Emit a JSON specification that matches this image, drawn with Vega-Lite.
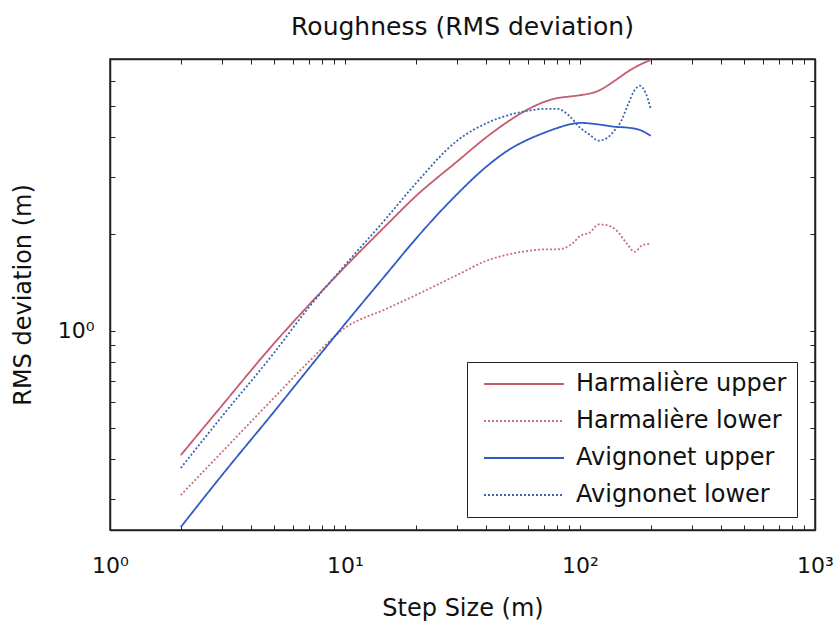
{
  "$schema": "https://vega.github.io/schema/vega-lite/v6.json",
  "width": 705,
  "height": 471,
  "autosize": {"type": "none"},
  "padding": {"left": 110, "top": 59, "right": 21, "bottom": 91},
  "background": "white",
  "config": {
    "font": "DejaVu Sans",
    "view": {"stroke": "#222", "strokeWidth": 1.5},
    "axis": {
      "grid": false,
      "domainColor": "#222",
      "domainWidth": 1.5,
      "tickColor": "#222",
      "tickWidth": 1,
      "tickSize": -5,
      "labelFont": "DejaVu Sans",
      "labelFontSize": 22,
      "labelColor": "#111",
      "labelOverlap": false,
      "labelFlush": false,
      "titleFont": "DejaVu Sans",
      "titleFontSize": 24,
      "titleFontWeight": "normal",
      "titleColor": "#111"
    }
  },
  "title": {
    "text": "Roughness (RMS deviation)",
    "font": "DejaVu Sans",
    "fontSize": 25,
    "fontWeight": "normal",
    "color": "#111",
    "baseline": "alphabetic",
    "offset": 24,
    "dy": 36
  },
  "data": {
    "values": [
      {"series": "Harmalière upper", "step": 2, "rms": 0.41},
      {"series": "Harmalière upper", "step": 3, "rms": 0.586},
      {"series": "Harmalière upper", "step": 5, "rms": 0.915},
      {"series": "Harmalière upper", "step": 7, "rms": 1.2},
      {"series": "Harmalière upper", "step": 10, "rms": 1.58},
      {"series": "Harmalière upper", "step": 15, "rms": 2.13},
      {"series": "Harmalière upper", "step": 20, "rms": 2.62},
      {"series": "Harmalière upper", "step": 30, "rms": 3.36},
      {"series": "Harmalière upper", "step": 40, "rms": 4.0},
      {"series": "Harmalière upper", "step": 50, "rms": 4.5},
      {"series": "Harmalière upper", "step": 60, "rms": 4.88},
      {"series": "Harmalière upper", "step": 70, "rms": 5.14},
      {"series": "Harmalière upper", "step": 80, "rms": 5.29},
      {"series": "Harmalière upper", "step": 90, "rms": 5.35},
      {"series": "Harmalière upper", "step": 100, "rms": 5.4},
      {"series": "Harmalière upper", "step": 120, "rms": 5.58},
      {"series": "Harmalière upper", "step": 140, "rms": 5.98},
      {"series": "Harmalière upper", "step": 160, "rms": 6.4},
      {"series": "Harmalière upper", "step": 180, "rms": 6.72},
      {"series": "Harmalière upper", "step": 200, "rms": 6.95},

      {"series": "Harmalière lower", "step": 2, "rms": 0.308},
      {"series": "Harmalière lower", "step": 3, "rms": 0.42},
      {"series": "Harmalière lower", "step": 5, "rms": 0.62},
      {"series": "Harmalière lower", "step": 7, "rms": 0.8},
      {"series": "Harmalière lower", "step": 10, "rms": 1.02},
      {"series": "Harmalière lower", "step": 15, "rms": 1.17},
      {"series": "Harmalière lower", "step": 20, "rms": 1.29},
      {"series": "Harmalière lower", "step": 30, "rms": 1.49},
      {"series": "Harmalière lower", "step": 40, "rms": 1.65},
      {"series": "Harmalière lower", "step": 50, "rms": 1.73},
      {"series": "Harmalière lower", "step": 60, "rms": 1.77},
      {"series": "Harmalière lower", "step": 70, "rms": 1.79},
      {"series": "Harmalière lower", "step": 80, "rms": 1.79},
      {"series": "Harmalière lower", "step": 93, "rms": 1.87},
      {"series": "Harmalière lower", "step": 100, "rms": 1.97},
      {"series": "Harmalière lower", "step": 110, "rms": 2.02},
      {"series": "Harmalière lower", "step": 120, "rms": 2.14},
      {"series": "Harmalière lower", "step": 130, "rms": 2.13},
      {"series": "Harmalière lower", "step": 143, "rms": 2.05},
      {"series": "Harmalière lower", "step": 158, "rms": 1.87},
      {"series": "Harmalière lower", "step": 171, "rms": 1.76},
      {"series": "Harmalière lower", "step": 185, "rms": 1.85},
      {"series": "Harmalière lower", "step": 198, "rms": 1.86},

      {"series": "Avignonet upper", "step": 2, "rms": 0.245},
      {"series": "Avignonet upper", "step": 3, "rms": 0.356},
      {"series": "Avignonet upper", "step": 5, "rms": 0.561},
      {"series": "Avignonet upper", "step": 7, "rms": 0.762},
      {"series": "Avignonet upper", "step": 10, "rms": 1.05},
      {"series": "Avignonet upper", "step": 15, "rms": 1.5},
      {"series": "Avignonet upper", "step": 20, "rms": 1.93},
      {"series": "Avignonet upper", "step": 30, "rms": 2.66},
      {"series": "Avignonet upper", "step": 40, "rms": 3.24},
      {"series": "Avignonet upper", "step": 50, "rms": 3.66},
      {"series": "Avignonet upper", "step": 60, "rms": 3.93},
      {"series": "Avignonet upper", "step": 70, "rms": 4.12},
      {"series": "Avignonet upper", "step": 80, "rms": 4.27},
      {"series": "Avignonet upper", "step": 90, "rms": 4.38},
      {"series": "Avignonet upper", "step": 100, "rms": 4.43},
      {"series": "Avignonet upper", "step": 120, "rms": 4.38},
      {"series": "Avignonet upper", "step": 140, "rms": 4.31},
      {"series": "Avignonet upper", "step": 160, "rms": 4.28},
      {"series": "Avignonet upper", "step": 180, "rms": 4.21},
      {"series": "Avignonet upper", "step": 200, "rms": 4.04},

      {"series": "Avignonet lower", "step": 2, "rms": 0.374},
      {"series": "Avignonet lower", "step": 3, "rms": 0.542},
      {"series": "Avignonet lower", "step": 5, "rms": 0.855},
      {"series": "Avignonet lower", "step": 7, "rms": 1.18},
      {"series": "Avignonet lower", "step": 10, "rms": 1.6},
      {"series": "Avignonet lower", "step": 15, "rms": 2.24},
      {"series": "Avignonet lower", "step": 20, "rms": 2.87},
      {"series": "Avignonet lower", "step": 30, "rms": 3.9},
      {"series": "Avignonet lower", "step": 40, "rms": 4.42},
      {"series": "Avignonet lower", "step": 50, "rms": 4.69},
      {"series": "Avignonet lower", "step": 60, "rms": 4.83},
      {"series": "Avignonet lower", "step": 70, "rms": 4.9},
      {"series": "Avignonet lower", "step": 80, "rms": 4.9},
      {"series": "Avignonet lower", "step": 90, "rms": 4.66},
      {"series": "Avignonet lower", "step": 100, "rms": 4.28},
      {"series": "Avignonet lower", "step": 110, "rms": 4.07},
      {"series": "Avignonet lower", "step": 120, "rms": 3.9},
      {"series": "Avignonet lower", "step": 130, "rms": 3.97},
      {"series": "Avignonet lower", "step": 140, "rms": 4.19},
      {"series": "Avignonet lower", "step": 150, "rms": 4.5},
      {"series": "Avignonet lower", "step": 160, "rms": 5.05},
      {"series": "Avignonet lower", "step": 170, "rms": 5.57},
      {"series": "Avignonet lower", "step": 180, "rms": 5.78},
      {"series": "Avignonet lower", "step": 190, "rms": 5.5},
      {"series": "Avignonet lower", "step": 200, "rms": 4.9}
    ]
  },
  "layer": [
    {
      "mark": {"type": "line", "interpolate": "monotone", "strokeWidth": 1.8},
      "encoding": {
        "x": {
          "field": "step", "type": "quantitative",
          "scale": {"type": "log", "domain": [1, 1000], "nice": false},
          "axis": {
            "orient": "bottom",
            "title": "Step Size (m)",
            "values": [1,2,3,4,5,6,7,8,9,10,20,30,40,50,60,70,80,90,100,200,300,400,500,600,700,800,900,1000],
            "labelExpr": "datum.value == 1 ? '10⁰' : datum.value == 10 ? '10¹' : datum.value == 100 ? '10²' : datum.value == 1000 ? '10³' : ''",
            "labelPadding": 30,
            "titlePadding": 20
          }
        },
        "y": {
          "field": "rms", "type": "quantitative",
          "scale": {"type": "log", "domain": [0.24, 7], "nice": false, "zero": false},
          "axis": {
            "orient": "left",
            "title": "RMS deviation (m)",
            "values": [0.3,0.4,0.5,0.6,0.7,0.8,0.9,1,2,3,4,5,6,7],
            "labelExpr": "datum.value == 1 ? '10⁰' : ''",
            "labelPadding": 21,
            "titlePadding": 22
          }
        },
        "color": {
          "field": "series", "type": "nominal",
          "scale": {
            "domain": ["Harmalière upper", "Harmalière lower", "Avignonet upper", "Avignonet lower"],
            "range": ["#c45c6c", "#c8707e", "#2f5bc4", "#3a66b4"]
          },
          "legend": {
            "title": null,
            "orient": "none",
            "legendX": 357,
            "legendY": 303,
            "strokeColor": "#222",
            "fillColor": "white",
            "padding": 10,
            "symbolType": "M-4,0H4",
            "symbolSize": 400,
            "symbolStrokeWidth": 1.8,
            "symbolOffset": 35,
            "labelOffset": 40,
            "labelFont": "DejaVu Sans",
            "labelFontSize": 24,
            "labelColor": "#111",
            "labelLimit": 400,
            "rowPadding": 13
          }
        },
        "strokeDash": {
          "field": "series", "type": "nominal",
          "scale": {
            "domain": ["Harmalière upper", "Harmalière lower", "Avignonet upper", "Avignonet lower"],
            "range": [[1, 0], [2, 2], [1, 0], [2, 2]]
          },
          "legend": null
        }
      }
    },
    {
      "mark": {"type": "line", "opacity": 0},
      "encoding": {
        "x": {
          "field": "step", "type": "quantitative",
          "scale": {"type": "log", "domain": [1, 1000], "nice": false},
          "axis": {
            "orient": "top",
            "title": null,
            "labels": false,
            "values": [1,2,3,4,5,6,7,8,9,10,20,30,40,50,60,70,80,90,100,200,300,400,500,600,700,800,900,1000]
          }
        },
        "y": {
          "field": "rms", "type": "quantitative",
          "scale": {"type": "log", "domain": [0.24, 7], "nice": false, "zero": false},
          "axis": {
            "orient": "right",
            "title": null,
            "labels": false,
            "values": [0.3,0.4,0.5,0.6,0.7,0.8,0.9,1,2,3,4,5,6,7]
          }
        }
      }
    }
  ],
  "resolve": {"axis": {"x": "independent", "y": "independent"}}
}
